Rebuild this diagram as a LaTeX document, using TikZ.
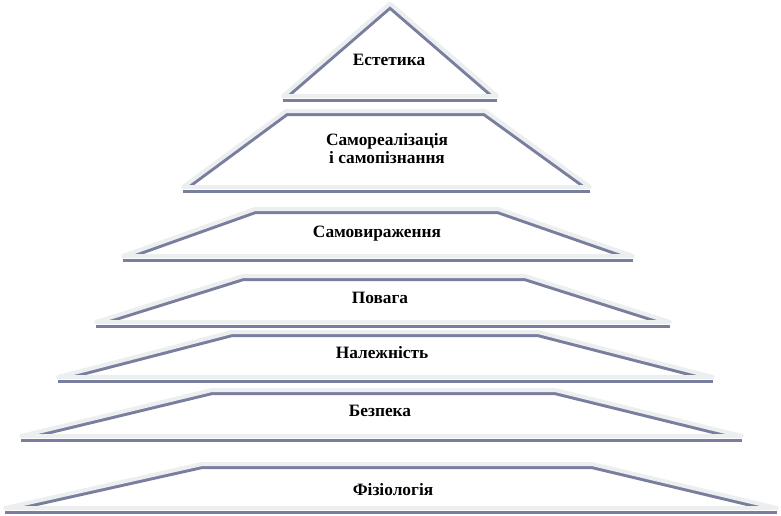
\documentclass[tikz,border=0pt]{standalone}
\usepackage{fontspec}
\setmainfont{Liberation Serif}
\usetikzlibrary{calc}

\definecolor{glowgray}{RGB}{236,239,239}
\definecolor{shadeblue}{RGB}{122,126,158}

\tikzset{
  glow/.style={draw=glowgray, line width=3pt, line join=round},
  shade/.style={draw=shadeblue, line width=7.5pt, line join=miter},
  baseline shade/.style={draw=shadeblue, line width=2.4pt},
  tiertext/.style={align=center, inner sep=0.75pt, font=\bfseries\fontsize{13}{13.5}\selectfont}
}

% one tier of the pyramid: #1 name, #2 top y, #3/#4 top x, #5 bottom y, #6/#7 bottom x
\newcommand{\pyrtier}[7]{%
  \coordinate (#1-tl) at (#3,#2);
  \coordinate (#1-tr) at (#4,#2);
  \coordinate (#1-br) at (#7,#5);
  \coordinate (#1-bl) at (#6,#5);
  \begin{scope}
    \clip (#1-tl) -- (#1-tr) -- (#1-br) -- (#1-bl) -- cycle;
    \draw [shade] ($(#1-bl)!-0.2!(#1-tl)$) -- (#1-tl) -- (#1-tr) -- ($(#1-br)!-0.2!(#1-tr)$);
  \end{scope}
  \draw [glow] (#1-tl) -- (#1-tr) -- (#1-br) -- (#1-bl) -- cycle;
  \draw [baseline shade] ($(#1-bl)+(0,4.5)$) -- ($(#1-br)+(0,4.5)$);
}

\begin{document}
\begin{tikzpicture}[x=0.75pt,y=0.75pt,yscale=-1,xscale=1]
        \useasboundingbox (0,0) rectangle (781,515);
        %Shape: Triangle [top]
        \pyrtier{est}{4}{389.5}{390.5}{96}{283}{497}
        %Shape: Trapezoid
        \pyrtier{sam}{111}{286}{485}{187}{183}{590}
        %Shape: Trapezoid
        \pyrtier{vyr}{209}{255}{498}{256}{123}{633}
        %Shape: Trapezoid
        \pyrtier{pov}{276}{243}{525}{322}{96}{670}
        %Shape: Trapezoid
        \pyrtier{nal}{332}{232}{538}{377}{58}{713}
        %Shape: Trapezoid
        \pyrtier{bez}{390}{212}{555}{436}{21}{742}
        %Shape: Trapezoid [bottom]
        \pyrtier{fiz}{464}{202}{592}{508}{5}{777}
        % Text Node
        \node (est) at (389,60) [tiertext] {Естетика};
        % Text Node
        \node (sam) at (387,149) [tiertext] {Самореалізація\\і самопізнання};
        % Text Node
        \node (vyr) at (377,234) [tiertext] {Самовираження};
        % Text Node
        \node (pov) at (380,298) [tiertext] {Повага};
        % Text Node
        \node (nal) at (382,353) [tiertext] {Належність};
        % Text Node
        \node (bez) at (380,411) [tiertext] {Безпека};
        % Text Node
        \node (fiz) at (393,490) [tiertext] {Фізіологія};
    \end{tikzpicture}
\end{document}
